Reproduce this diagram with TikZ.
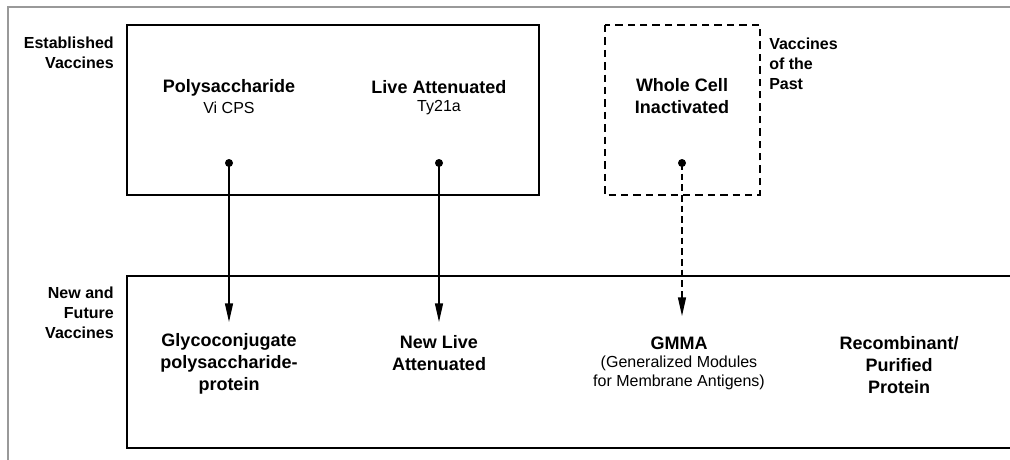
\documentclass[tikz,border=0pt]{standalone}
\usepackage{fontspec}
\setmainfont{Liberation Sans}
\usetikzlibrary{arrows.meta}
\begin{document}
\begin{tikzpicture}[x=0.75pt,y=-0.75pt,
  boxline/.style={line width=1.5pt},
  dashbox/.style={line width=1.5pt, dash pattern=on 5.5pt off 3.8pt},
  side/.style={font=\bfseries\fontsize{12}{14.8}\selectfont, inner sep=0pt},
  title/.style={font=\bfseries\fontsize{13.5}{16.5}\selectfont, inner sep=0pt, align=center},
  sub/.style={font=\fontsize{12}{13.8}\selectfont, inner sep=0pt, align=center},
  dot/.style={circle, fill=black, inner sep=0pt, minimum size=6pt},
  link/.style={line width=1pt, -{Triangle[length=14pt,width=6pt]}},
  dlink/.style={line width=1pt, dash pattern=on 5pt off 3pt, -{Triangle[length=14pt,width=6pt]}}
]
\useasboundingbox (0,0) rectangle (1010,460);
% page frame
\draw[black!40, line width=1.1pt] (8,460) -- (8,7) -- (1010,7);
% boxes
\draw[boxline] (127,25) rectangle (539,195);
\draw[dashbox] (605,25) rectangle (760,195);
\draw[boxline] (1010,276) -- (127,276) -- (127,448) -- (1010,448);
% side labels
\node[side, align=right, anchor=east] (est) at (114,53) {Established\\Vaccines};
\node[side, align=right, anchor=east] (newf) at (114,313) {New and\\Future\\Vaccines};
\node[side, align=left, anchor=west] (past) at (769,64) {Vaccines\\of the\\Past};
% top texts
\node[title] (poly) at (229,88) {Polysaccharide};
\node[sub] (vicps) at (229,108) {Vi CPS};
\node[title] (live) at (439,87) {Live Attenuated};
\node[sub] (ty) at (439,108) {Ty21a};
\node[title] (whole) at (682,96) {Whole Cell\\Inactivated};
% bottom texts
\node[title] (glyco) at (229,364) {Glycoconjugate\\polysaccharide-\\protein};
\node[title] (newlive) at (439,353) {New Live\\Attenuated};
\node[title] (gmma) at (679,343) {GMMA};
\node[sub] (gmmasub) at (679,373) {(Generalized Modules\\for Membrane Antigens)};
\node[title] (recomb) at (899,365) {Recombinant/\\Purified\\Protein};
% dots and arrow ends
\node[dot] (d1) at (229,163) {};
\node[dot] (d2) at (439,163) {};
\node[dot] (d3) at (682,163) {};
\coordinate (e1) at (229,322);
\coordinate (e2) at (439,322);
\coordinate (e3) at (682,316);
\draw[link] (d1.center) -- (e1);
\draw[link] (d2.center) -- (e2);
\draw[dlink] (d3.center) -- (e3);
\end{tikzpicture}
\end{document}
